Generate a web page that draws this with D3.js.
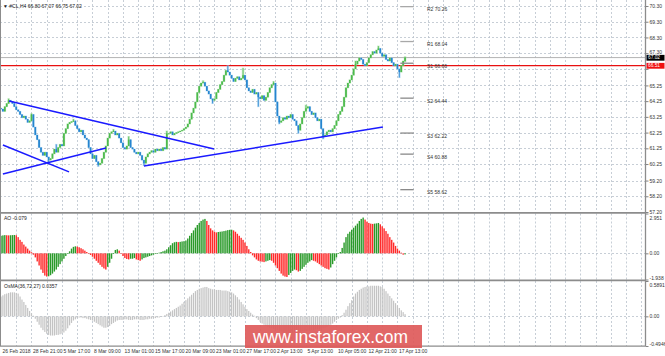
<!DOCTYPE html>
<html><head><meta charset="utf-8">
<script src="https://cdn.jsdelivr.net/npm/d3@7"></script>
<style>html,body{margin:0;padding:0;background:#fff;overflow:hidden}svg{display:block}</style>
</head><body>
<svg id="c" width="665" height="356"></svg>
<script>
// ---------------- DATA ----------------
const symbolTitle = "\u25BC #CL,H4 66.80 67.07 66.75 67.02";
const aoTitle = "AO -0.079";
const osmaTitle = "OsMA(36,72,27) 0.0357";
const firstOpen = 63.8;
const closes = [63.75,63.6,63.9,64.1,64.3,64.2,64.1,
 63.9,63.7,63.6,63.4,63.2,63.3,
 63.1,62.9,63.0,63.4,
 62.6,62.1,61.8,
 61.3,61.0,60.8,61.0,60.7,60.5,60.6,
 60.9,61.2,61.0,61.3,61.5,61.4,
 62.2,62.5,62.8,62.9,62.95,63.0,
 62.7,62.5,62.3,62.4,62.1,61.9,61.8,
 61.3,60.9,60.6,60.8,60.4,60.2,60.3,
 60.6,61.0,61.4,61.9,62.2,62.3,
 62.35,
 62.1,62.2,61.9,61.6,61.3,61.2,61.4,
 61.8,
 61.3,61.2,61.0,60.9,61.0,60.8,60.5,60.3,
 60.7,60.9,61.0,61.1,61.0,61.2,61.1,61.2,61.1,61.3,61.2,
 62.2,
 62.2,62.3,62.1,62.2,62.25,62.3,62.35,
 62.4,62.5,62.6,62.8,
 63.1,63.5,63.8,64.2,64.8,65.2,65.4,
 65.45,
 65.2,64.9,64.7,64.4,64.3,64.4,
 64.8,65.0,65.3,65.5,65.9,66.2,66.1,
 65.9,65.7,65.5,65.7,65.8,65.6,65.7,65.9,65.6,
 65.1,64.9,64.8,65.0,64.7,64.8,64.5,64.4,64.6,64.3,64.5,
 64.8,65.1,65.3,65.4,
 64.2,63.3,62.9,
 63.0,63.2,63.1,63.3,63.2,63.4,63.1,63.0,62.7,62.4,
 62.8,63.2,63.6,63.8,63.9,63.6,63.4,63.5,63.2,63.0,63.1,
 62.5,62.0,62.1,
 62.3,62.4,62.3,62.5,
 62.7,63.0,63.4,63.6,63.9,64.5,65.1,65.4,65.6,65.9,66.3,66.6,
 66.8,67.0,66.9,66.6,66.5,66.7,67.0,67.2,67.4,67.3,67.5,67.6,67.3,67.1,67.2,66.9,66.8,67.0,66.7,66.5,66.6,66.3,66.1,66.5,66.8,67.02];
// [bar, high, low] extra wick extremes
const wicks = [[4,64.4,null],[16,63.45,null],[25,null,60.35],[29,61.5,null],[38,63.1,null],[51,null,60.1],
 [59,62.45,null],[67,62.0,null],[75,null,60.15],[87,62.35,null],[106,65.55,null],[111,null,64.1],
 [119,66.5,null],[127,66.35,null],[135,null,63.9],[143,65.5,null],[146,null,62.8],[156,null,62.2],
 [160,64.0,null],[169,null,61.85],[186,66.8,null],[198,67.75,null],[209,null,65.75],[212,67.07,66.75]];
const aoValues = [1.30,1.33,1.35,1.34,1.33,1.34,1.35,1.36,1.34,
 1.2,1.0,0.85,0.65,0.5,0.35,0.2,0.08,
 -0.1,-0.3,-0.6,-0.9,-1.2,-1.45,-1.65,-1.72,
 -1.70,-1.62,-1.5,-1.35,-1.2,-1.0,-0.8,-0.6,-0.4,-0.2,-0.05,
 0.15,0.35,0.48,0.52,0.5,0.45,
 0.38,0.3,0.2,0.1,0.0,-0.12,-0.25,-0.4,-0.55,-0.7,-0.85,-1.0,-1.12,-1.2,
 -1.0,-0.7,-0.4,-0.05,0.25,0.3,
 0.2,0.0,-0.2,-0.35,-0.42,-0.45,-0.4,
 -0.4,-0.35,-0.45,-0.5,-0.55,-0.45,-0.35,-0.3,-0.25,-0.2,-0.15,-0.1,-0.05,0.0,
 0.05,0.1,0.15,0.2,0.3,0.45,0.6,0.75,0.82,0.85,0.83,0.85,0.88,0.9,
 0.95,1.1,1.3,1.5,1.7,1.9,2.1,2.25,2.4,2.5,2.55,
 2.4,2.1,1.85,1.7,1.6,
 1.55,1.58,1.6,1.62,1.65,1.68,1.72,1.74,1.75,
 1.7,1.6,1.45,1.3,1.15,1.0,0.8,0.55,0.3,0.1,
 -0.15,-0.3,-0.45,-0.55,-0.6,-0.62,-0.65,-0.6,-0.55,-0.5,
 -0.55,-0.7,-0.9,-1.1,-1.3,-1.5,-1.65,-1.72,-1.75,
 -1.6,-1.45,-1.3,-1.2,-1.25,-1.35,
 -1.3,-1.15,-1.0,-0.85,-0.7,-0.6,-0.5,
 -0.55,-0.6,-0.7,-0.8,-0.9,-1.0,-1.1,-1.15,-1.2,
 -1.05,-0.8,-0.55,-0.3,-0.05,
 0.1,0.4,0.8,1.2,1.45,1.6,1.75,1.9,2.05,2.2,2.4,2.55,2.65,
 2.5,2.35,2.25,2.2,2.18,
 2.2,2.22,2.25,2.15,
 2.0,1.85,1.65,1.45,1.2,1.0,0.8,0.55,0.35,0.2,0.05,
 -0.1,-0.079];
const osmaValues = [0.33,0.35,0.37,0.38,0.39,0.40,0.40,0.40,0.39,0.38,
 0.33,0.28,0.24,0.19,0.14,0.09,0.05,0.01,
 -0.04,-0.09,-0.14,-0.19,-0.23,-0.26,-0.29,-0.31,-0.32,
 -0.32,-0.32,-0.31,-0.31,-0.30,-0.29,-0.27,-0.24,
 -0.2,-0.15,-0.11,-0.07,-0.05,-0.03,-0.02,
 -0.02,-0.03,-0.03,-0.04,-0.05,-0.06,-0.07,-0.09,-0.11,
 -0.13,-0.15,-0.17,-0.19,-0.19,-0.18,-0.16,-0.13,
 -0.11,-0.09,-0.07,-0.06,-0.06,-0.06,
 -0.05,-0.05,-0.06,-0.06,-0.06,-0.05,-0.05,-0.05,-0.06,-0.06,-0.06,-0.05,-0.05,-0.04,-0.04,-0.03,-0.03,-0.02,-0.02,-0.01,0.0,
 0.02,0.04,0.06,0.08,0.1,0.12,0.14,0.16,0.18,0.21,0.24,0.27,0.3,0.33,0.36,0.39,0.42,0.44,0.46,0.47,0.48,0.49,0.49,
 0.47,0.46,0.45,0.45,0.44,0.44,0.44,0.43,0.43,0.43,0.42,0.41,0.4,0.38,
 0.35,0.32,0.28,0.24,0.2,0.16,0.12,0.09,0.06,0.03,0.01,
 -0.03,-0.06,-0.09,-0.12,-0.14,-0.16,-0.18,-0.19,-0.2,-0.21,
 -0.22,-0.23,-0.24,-0.25,-0.26,-0.27,-0.28,-0.28,-0.28,-0.28,
 -0.27,-0.27,-0.26,-0.26,-0.25,-0.25,-0.24,-0.24,-0.24,-0.23,
 -0.23,-0.22,-0.22,-0.22,-0.21,-0.2,-0.19,-0.18,-0.16,-0.14,
 -0.12,-0.09,-0.06,-0.04,-0.02,
 0.02,0.06,0.11,0.17,0.22,0.27,0.33,0.38,0.41,0.44,
 0.46,0.48,0.49,0.5,0.5,0.51,0.51,0.51,0.51,0.51,
 0.5,0.49,0.46,0.42,0.38,0.34,0.3,0.26,0.22,0.18,
 0.14,0.1,0.07,0.0357];
const priceTicks = [70.30,69.30,68.30,67.30,66.30,65.25,64.25,63.25,62.25,61.25,60.25,59.20,58.20,57.20];
const aoTicks = [2.951,0,-1.938];
const aoTickLabels = ["2.951","0.00","-1.938"];
const osmaTicks = [0.5891,0,-0.4946];
const osmaTickLabels = ["0.5891","0.00","-0.4946"];
const timeLabelBars = [0,16,32,48,64,80,96,112,128,144,160,176,192,208];
const timeLabelTexts = ["26 Feb 2018","28 Feb 21:00","5 Mar 17:00","8 Mar 09:00","13 Mar 01:00","15 Mar 17:00",
 "20 Mar 09:00","23 Mar 01:00","27 Mar 17:00","2 Apr 13:00","5 Apr 13:00","10 Apr 05:00","12 Apr 21:00","17 Apr 13:00"];
const pivotNames = ["R2","R1","S1","S2","S3","S4","S5"];
const pivotValues = [70.26,68.04,66.66,64.44,62.22,60.88,58.62];
// [bar1, price1, bar2, price2]
const trendLines = [[4.2,64.26,111.8,61.21],[1.0,61.46,35.7,59.75],[1.0,59.62,55.1,61.27],[75.0,60.13,200.4,62.61]];
const bidPrice = 67.02;
const alertPrice = 66.51;
const watermarkText = "www.instaforex.com";

// ---------------- LAYOUT ----------------
const plotRight = 645;
const mainTop = 0, mainBottom = 212;
const aoTop = 213.5, aoBottom = 279.5;
const osTop = 281, osBottom = 346;
const FONT = "'Liberation Sans', Arial, sans-serif";

const svg = d3.select("#c");
svg.append("rect").attr("width",665).attr("height",356).attr("fill","#fff");

const x = d3.scaleLinear().domain([0,338]).range([1, 1+338*1.906]);
const yP = d3.scaleLinear().domain([57.2,70.3]).range([212,6]);
const yAO = d3.scaleLinear().domain([-1.938,2.951]).range([aoBottom,aoTop]);
const yOS = d3.scaleLinear().domain([-0.4946,0.5891]).range([osBottom,osTop]);

const defs = svg.append("defs");
defs.append("clipPath").attr("id","cm").append("rect").attr("x",0).attr("y",mainTop).attr("width",plotRight).attr("height",mainBottom-mainTop);

// grid
const grid = svg.append("g").attr("stroke","#b9c1cc").attr("stroke-width",0.8).attr("stroke-dasharray","2,2");
const gridBars = d3.range(8, 339, 8).filter(b => x(b) < plotRight-3);
[[mainTop,mainBottom],[aoTop,aoBottom],[osTop,osBottom]].forEach(([a,b])=>{
  grid.selectAll(null).data(gridBars).enter().append("line")
    .attr("x1",d=>Math.round(x(d))+0.5).attr("x2",d=>Math.round(x(d))+0.5).attr("y1",a).attr("y2",b);
});
grid.selectAll(null).data(priceTicks).enter().append("line")
  .attr("x1",0).attr("x2",plotRight).attr("y1",d=>Math.round(yP(d))+0.5).attr("y2",d=>Math.round(yP(d))+0.5);
grid.append("line").attr("x1",0).attr("x2",plotRight).attr("y1",Math.round(yAO(0))+0.5).attr("y2",Math.round(yAO(0))+0.5);
grid.append("line").attr("x1",0).attr("x2",plotRight).attr("y1",Math.round(yOS(0))+0.5).attr("y2",Math.round(yOS(0))+0.5);

// main panel content
const main = svg.append("g").attr("clip-path","url(#cm)");
main.append("line").attr("x1",0).attr("x2",plotRight).attr("y1",yP(bidPrice)).attr("y2",yP(bidPrice))
  .attr("stroke","#b4b4b4").attr("stroke-width",1);
main.append("line").attr("x1",0).attr("x2",plotRight).attr("y1",yP(alertPrice)).attr("y2",yP(alertPrice))
  .attr("stroke","#e81010").attr("stroke-width",1.2);

const wickMap = new Map(wicks.map(w=>[w[0],w]));
const candles = closes.map((c,i)=>{
  const o = i===0 ? firstOpen : closes[i-1];
  const w = wickMap.get(i);
  let h = Math.max(o,c), l = Math.min(o,c);
  if (w) { if (w[1]!=null) h = Math.max(h,w[1]); if (w[2]!=null) l = Math.min(l,w[2]); }
  return {i,o,c,h,l,up:c>=o};
});
const cg = main.append("g");
// soft halo, like the downscaled screenshot
cg.selectAll("rect.halo").data(candles).enter().append("rect")
  .attr("x",d=>x(d.i)-1.3).attr("width",2.6)
  .attr("y",d=>yP(d.h)-0.5).attr("height",d=>Math.max(1.5,yP(d.l)-yP(d.h)+1))
  .attr("fill",d=>d.up?"#a8e0a8":"#a4d0f0").attr("opacity",0.6);
cg.selectAll("line.w").data(candles).enter().append("line")
  .attr("x1",d=>x(d.i)).attr("x2",d=>x(d.i)).attr("y1",d=>yP(d.h)).attr("y2",d=>yP(d.l))
  .attr("stroke",d=>d.up?"#58c058":"#2f8ad2").attr("stroke-width",0.9);
cg.selectAll("rect.b").data(candles).enter().append("rect")
  .attr("x",d=>x(d.i)-0.8).attr("width",1.6)
  .attr("y",d=>Math.min(yP(d.o),yP(d.c))).attr("height",d=>Math.max(0.9,Math.abs(yP(d.o)-yP(d.c))))
  .attr("fill",d=>d.up?"#4cba4c":"#2585cf");

main.selectAll("line.t").data(trendLines).enter().append("line")
  .attr("x1",d=>x(d[0])).attr("y1",d=>yP(d[1])).attr("x2",d=>x(d[2])).attr("y2",d=>yP(d[3]))
  .attr("stroke","#1a1aff").attr("stroke-width",1.5);

// pivots
const pivG = main.append("g");
pivotValues.forEach((v,k)=>{
  pivG.append("line").attr("x1",x(209.5)).attr("x2",x(216.5)).attr("y1",yP(v)).attr("y2",yP(v))
    .attr("stroke",k<2?"#a8a8a8":"#8a8a8a").attr("stroke-width",1.3);
  pivG.append("text").attr("x",x(223.5)).attr("y",yP(v)+4.6).text(pivotNames[k]+" "+v.toFixed(2))
    .attr("font-family",FONT).attr("font-size",5).attr("fill","#333");
});

// AO bars
const aoG = svg.append("g");
aoG.selectAll("rect").data(aoValues).enter().append("rect")
  .attr("x",(d,i)=>x(i)-0.7).attr("width",1.4)
  .attr("y",d=>Math.min(yAO(d),yAO(0))).attr("height",d=>Math.max(0.5,Math.abs(yAO(d)-yAO(0))))
  .attr("fill",(d,i)=> (i===0 || d>=aoValues[i-1]) ? "#2a9a2a" : "#ff2a2a");

// OsMA bars
const osG = svg.append("g");
osG.selectAll("rect").data(osmaValues).enter().append("rect")
  .attr("x",(d,i)=>x(i)-0.6).attr("width",1.2)
  .attr("y",d=>Math.min(yOS(d),yOS(0))).attr("height",d=>Math.max(0.5,Math.abs(yOS(d)-yOS(0))))
  .attr("fill","#c3c3c3");

// frames / separators
const fr = svg.append("g").attr("stroke","#8c8c8c");
fr.append("line").attr("x1",0.5).attr("x2",0.5).attr("y1",0).attr("y2",osBottom);
fr.append("line").attr("x1",plotRight+0.5).attr("x2",plotRight+0.5).attr("y1",0).attr("y2",osBottom).attr("stroke-width",1.3);
fr.append("line").attr("x1",0).attr("x2",plotRight+1).attr("y1",212.8).attr("y2",212.8).attr("stroke-width",1.8);
fr.append("line").attr("x1",0).attr("x2",plotRight+1).attr("y1",280.3).attr("y2",280.3).attr("stroke-width",1.8);
fr.append("line").attr("x1",0).attr("x2",plotRight+1).attr("y1",osBottom+0.2).attr("y2",osBottom+0.2).attr("stroke-width",1.3);

// right axes
function styleAxis(g){
  g.select(".domain").remove();
  g.selectAll(".tick line").attr("stroke","#666").attr("stroke-width",0.8);
  g.selectAll(".tick text").attr("font-family",FONT).attr("font-size",5).attr("fill","#333");
}
// the 66.30 label sits under the bid/alert price boxes in the reference
const hiddenPriceLabels = [66.30];
const axP = svg.append("g").attr("transform",`translate(${plotRight+1},0)`)
  .call(d3.axisRight(yP).tickValues(priceTicks)
    .tickFormat(d => hiddenPriceLabels.includes(d) ? "" : d3.format(".2f")(d)).tickSize(2.5).tickPadding(1));
styleAxis(axP);
axP.selectAll(".tick text").filter(d=>d===67.30).attr("dy","0.1em");
const axAO = svg.append("g").attr("transform",`translate(${plotRight+1},0)`)
  .call(d3.axisRight(yAO).tickValues(aoTicks).tickFormat((d,i)=>aoTickLabels[i]).tickSize(2.5).tickPadding(1));
styleAxis(axAO);
axAO.selectAll(".tick text").attr("dy",(d,i)=> i===0?"1.1em": i===2?"-0.1em":"0.32em");
const axOS = svg.append("g").attr("transform",`translate(${plotRight+1},0)`)
  .call(d3.axisRight(yOS).tickValues(osmaTicks).tickFormat((d,i)=>osmaTickLabels[i]).tickSize(2.5).tickPadding(1));
styleAxis(axOS);
axOS.selectAll(".tick text").attr("dy",(d,i)=> i===0?"1.0em": i===2?"-0.1em":"0.32em");

// price labels (bid / alert)
[[bidPrice,"#000"],[alertPrice,"#f01010"]].forEach(([v,col])=>{
  const yy = yP(v);
  svg.append("rect").attr("x",plotRight+1.5).attr("y",yy-2.7).attr("width",18).attr("height",5.8).attr("fill",col);
  svg.append("text").attr("x",plotRight+3).attr("y",yy+1.8).text(v.toFixed(2))
    .attr("font-family",FONT).attr("font-size",4.8).attr("fill","#fff");
});

// time axis
const axT = svg.append("g").attr("transform",`translate(0,${osBottom+1})`)
  .call(d3.axisBottom(x).tickValues(timeLabelBars).tickFormat((d,i)=>timeLabelTexts[i]).tickSize(0).tickPadding(2));
axT.select(".domain").remove();
axT.selectAll(".tick text").attr("text-anchor","start").attr("dx",1)
  .attr("font-family",FONT).attr("font-size",5).attr("fill","#333");

// titles
svg.append("text").attr("x",3).attr("y",7.5).text(symbolTitle).attr("font-family",FONT).attr("font-size",5).attr("fill","#222");
svg.append("text").attr("x",4).attr("y",219.5).text(aoTitle).attr("font-family",FONT).attr("font-size",5).attr("fill","#222");
svg.append("text").attr("x",4).attr("y",287.5).text(osmaTitle).attr("font-family",FONT).attr("font-size",5).attr("fill","#222");

// watermark
svg.append("rect").attr("x",245).attr("y",325).attr("width",177).attr("height",23).attr("fill","#de5a5a").attr("opacity",0.92);
svg.append("text").attr("x",253).attr("y",343).text(watermarkText)
  .attr("font-family",FONT).attr("font-size",17.5).attr("fill","#fff").attr("textLength",155).attr("lengthAdjust","spacingAndGlyphs");
</script>
</body></html>
